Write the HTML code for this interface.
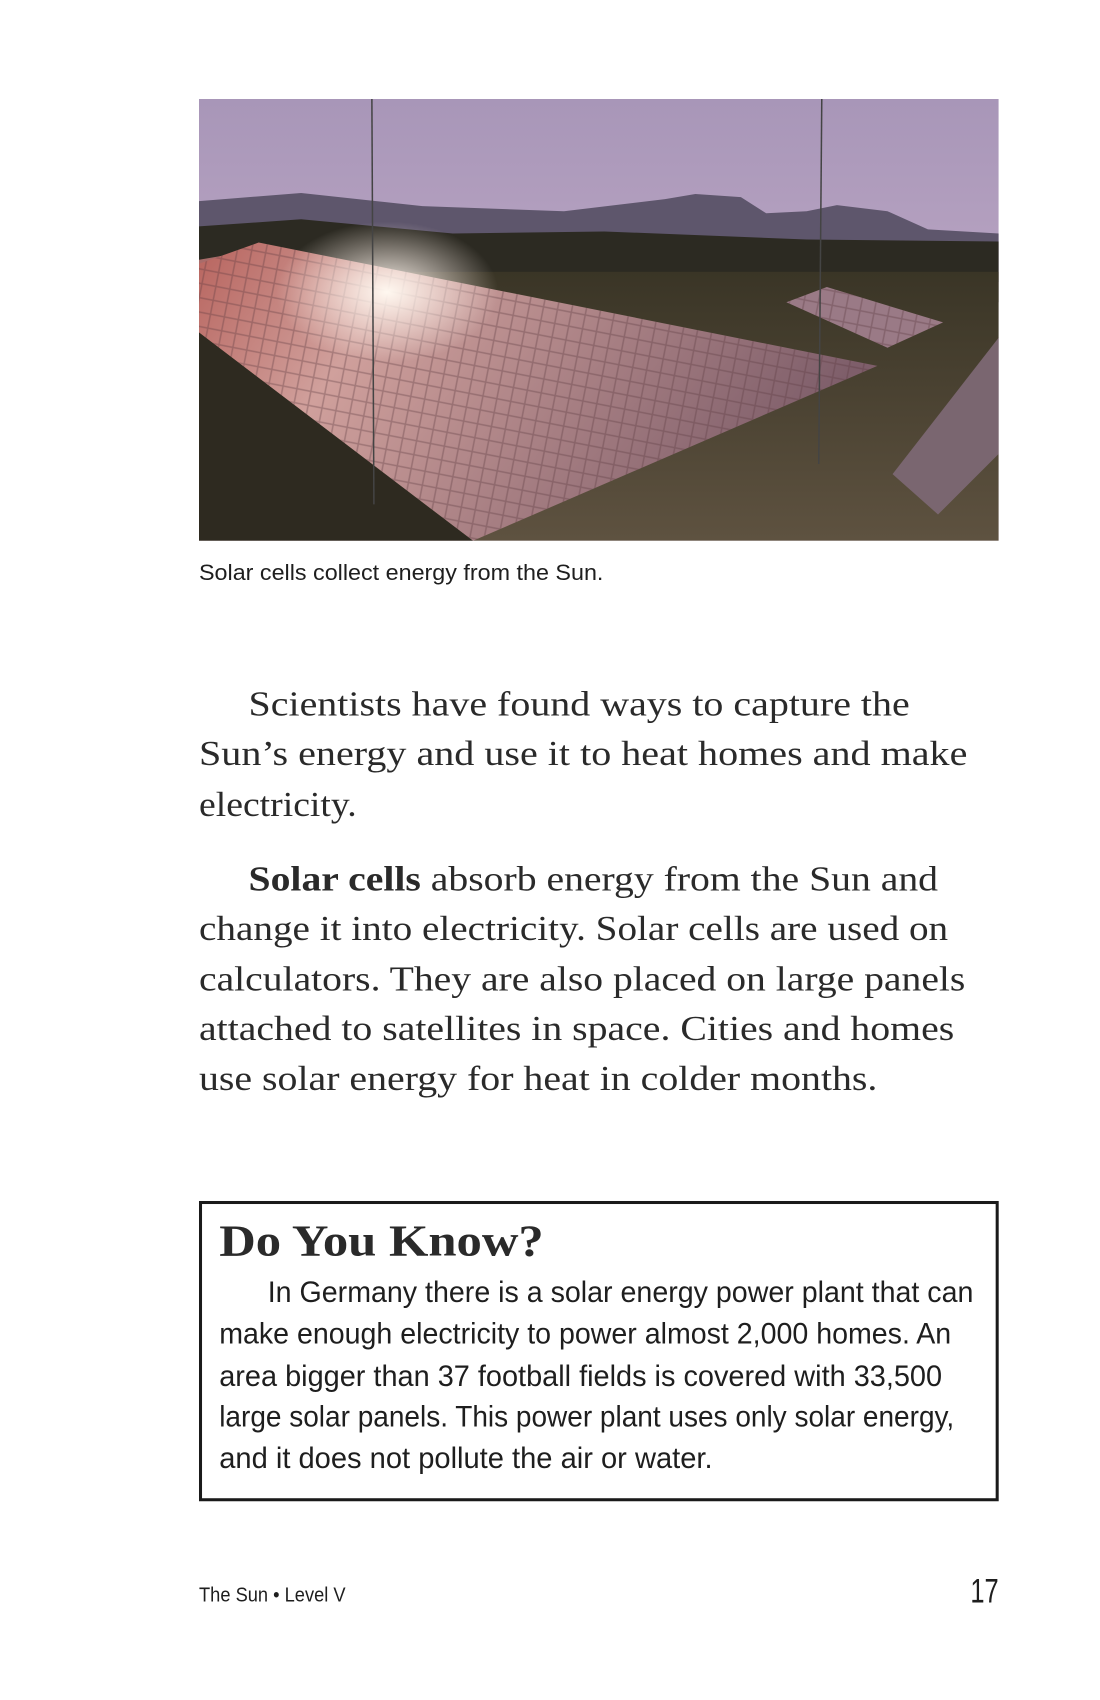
<!DOCTYPE html>
<html><head><meta charset="utf-8"><style>
html,body{margin:0;padding:0;background:#fff;}
svg{display:block;}
.serif{font-family:"Liberation Serif",serif;fill:#2a2a2a;}
.sans{font-family:"Liberation Sans",sans-serif;fill:#1e1e1e;}
</style></head><body>
<svg width="1100" height="1700" viewBox="0 0 1100 1700">
<defs>
<linearGradient id="sky" x1="0" y1="0" x2="0" y2="1"><stop offset="0" stop-color="#a896b8"/><stop offset="1" stop-color="#cdb5cf"/></linearGradient>
<linearGradient id="ground" x1="0" y1="0" x2="0" y2="1"><stop offset="0" stop-color="#3a3526"/><stop offset="1" stop-color="#5e5240"/></linearGradient>
<linearGradient id="panel" x1="0" y1="0" x2="1" y2="0.3"><stop offset="0" stop-color="#b8645e"/><stop offset="0.3" stop-color="#d0a09c"/><stop offset="1" stop-color="#7e5e6a"/></linearGradient>
<radialGradient id="glare" cx="0.5" cy="0.5" r="0.5"><stop offset="0" stop-color="#fff8f0" stop-opacity="1"/><stop offset="1" stop-color="#fff0e8" stop-opacity="0"/></radialGradient>
<pattern id="cells" width="14" height="14" patternUnits="userSpaceOnUse" patternTransform="rotate(11)"><rect width="14" height="14" fill="none" stroke="#5a3a40" stroke-opacity="0.35" stroke-width="1.5"/></pattern>
<clipPath id="pc"><rect x="199" y="99" width="791" height="437"/></clipPath>
</defs>
<g transform="translate(199,99) scale(1.011) translate(-199,-99)">
<g clip-path="url(#pc)">
<rect x="199" y="99" width="791" height="437" fill="url(#sky)"/>
<path d="M199 200 L300 192 L420 205 L560 210 L660 198 L690 193 L735 196 L760 212 L800 210 L830 204 L880 210 L920 228 L990 232 L990 280 L199 280 Z" fill="#5e566c"/>
<path d="M199 225 L300 218 L450 232 L600 230 L800 238 L990 240 L990 300 L199 300 Z" fill="#2c2a22"/>
<rect x="199" y="270" width="791" height="266" fill="url(#ground)"/>
<polygon points="199,258 258,248 199,330" fill="#a86c6a"/>
<polygon points="258,241 870,363 470,536 199,330 199,262" fill="url(#panel)"/>
<polygon points="258,241 870,363 470,536 199,330 199,262" fill="url(#cells)"/>
<polygon points="820,285 935,320 880,345 780,300" fill="#9a7a86"/>
<polygon points="820,285 935,320 880,345 780,300" fill="url(#cells)"/>
<polygon points="990,335 990,450 930,510 885,470" fill="#7a6670"/>
<polygon points="199,330 470,536 199,536" fill="#2e2a20"/>
<ellipse cx="385" cy="290" rx="110" ry="70" fill="url(#glare)"/>
<line x1="370" y1="99" x2="372" y2="500" stroke="#444" stroke-width="1.5"/>
<line x1="815" y1="99" x2="812" y2="460" stroke="#444" stroke-width="1.5"/>
</g>
<text class="sans" x="199" y="575" font-size="22" textLength="400" lengthAdjust="spacingAndGlyphs">Solar cells collect energy from the Sun.</text>
<g class="serif" font-size="34">
<text x="248" y="709" textLength="654" lengthAdjust="spacingAndGlyphs">Scientists have found ways to capture the</text>
<text x="199" y="758" textLength="760" lengthAdjust="spacingAndGlyphs">Sun’s energy and use it to heat homes and make</text>
<text x="199" y="808" textLength="156" lengthAdjust="spacingAndGlyphs">electricity.</text>
</g>
<g class="serif" font-size="34">
<text x="248" y="882" textLength="682" lengthAdjust="spacingAndGlyphs"><tspan font-weight="bold">Solar cells</tspan> absorb energy from the Sun and</text>
<text x="199" y="931" textLength="741" lengthAdjust="spacingAndGlyphs">change it into electricity. Solar cells are used on</text>
<text x="199" y="981" textLength="758" lengthAdjust="spacingAndGlyphs">calculators. They are also placed on large panels</text>
<text x="199" y="1030" textLength="747" lengthAdjust="spacingAndGlyphs">attached to satellites in space. Cities and homes</text>
<text x="199" y="1079" textLength="671" lengthAdjust="spacingAndGlyphs">use solar energy for heat in colder months.</text>
</g>
<g>
<rect x="200.5" y="1190.5" width="788" height="294" fill="none" stroke="#1a1a1a" stroke-width="3"/>
<text class="serif" x="219" y="1243" font-size="44" font-weight="bold" textLength="321" lengthAdjust="spacingAndGlyphs">Do You Know?</text>
<g class="sans" font-size="29">
<text x="267" y="1289" textLength="698" lengthAdjust="spacingAndGlyphs">In Germany there is a solar energy power plant that can</text>
<text x="219" y="1330" textLength="724" lengthAdjust="spacingAndGlyphs">make enough electricity to power almost 2,000 homes. An</text>
<text x="219" y="1372" textLength="715" lengthAdjust="spacingAndGlyphs">area bigger than 37 football fields is covered with 33,500</text>
<text x="219" y="1412" textLength="727" lengthAdjust="spacingAndGlyphs">large solar panels. This power plant uses only solar energy,</text>
<text x="219" y="1453" textLength="488" lengthAdjust="spacingAndGlyphs">and it does not pollute the air or water.</text>
</g>
</g>
<text class="sans" x="199" y="1585" font-size="20" textLength="145" lengthAdjust="spacingAndGlyphs">The Sun • Level V</text>
<text class="sans" x="962" y="1586" font-size="34" textLength="28" lengthAdjust="spacingAndGlyphs">17</text>
</g>
</svg>
</body></html>
